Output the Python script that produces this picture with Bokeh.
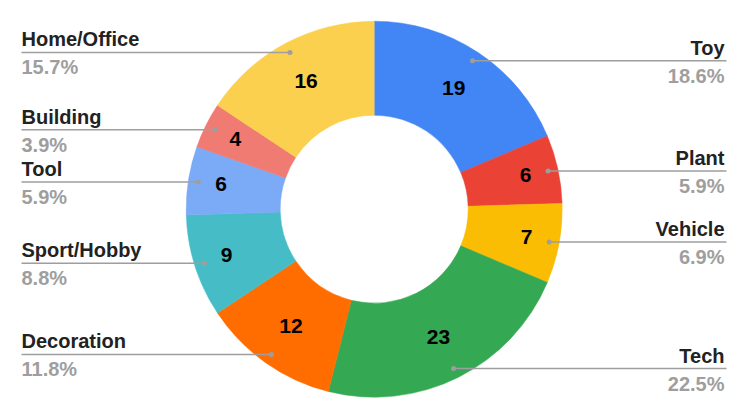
import math
from bokeh.plotting import figure
from bokeh.models import Range1d, ColumnDataSource
from bokeh.core.properties import value
from bokeh.embed import file_html
from bokeh.resources import INLINE

categories = ["Toy", "Plant", "Vehicle", "Tech", "Decoration", "Sport/Hobby", "Tool", "Building", "Home/Office"]
values = [19, 6, 7, 23, 12, 9, 6, 4, 16]
colors = ["#4285F4", "#EA4335", "#FBBC04", "#34A853", "#FF6D01", "#46BDC6", "#7BAAF7", "#F07B72", "#FCD04F"]

W, H = 731, 402
# data coords: x = screen x, y = 418 - screen y
p = figure(width=W, height=H, output_backend="svg", toolbar_location=None,
           x_range=Range1d(0, W), y_range=Range1d(418 - H, 418),
           min_border=0)
p.axis.visible = False
p.grid.visible = False
p.outline_line_color = None
p.background_fill_color = "white"

cx, cy = 373.7, 418 - 208.7
R_out, R_in = 188, 94
R_dot = R_out - 10
LEFT_X, RIGHT_X = 21, 726

total = sum(values)
starts, ends, mids = [], [], []
cum = 0
for v in values:
    a0 = math.pi / 2 - 2 * math.pi * cum / total
    cum += v
    a1 = math.pi / 2 - 2 * math.pi * cum / total
    starts.append(a0)
    ends.append(a1)
    mids.append((a0 + a1) / 2)

src = ColumnDataSource(dict(start=starts, end=ends, color=colors))
p.annular_wedge(x=cx, y=cy, inner_radius=R_in, outer_radius=R_out,
                start_angle="start", end_angle="end", direction="clock",
                fill_color="color", line_color="color", line_width=0.5, source=src)

# value labels: thin slices push their label outward, where the slice is wider
lab_r = [144 if v / total >= 0.1 else 155 for v in values]
vx = [cx + r * math.cos(m) for r, m in zip(lab_r, mids)]
vy = [cy + r * math.sin(m) + 1 for r, m in zip(lab_r, mids)]
p.text(x=vx, y=vy, text=[str(v) for v in values], text_align="center",
       text_baseline="middle", text_font=value("Liberation Sans"),
       text_font_style="bold", text_font_size="21px", text_color="#000000")

# leaders and labels
for cat, v, m in zip(categories, values, mids):
    dx = cx + R_dot * math.cos(m)
    dy = cy + R_dot * math.sin(m)
    right = math.cos(m) >= 0
    ex = RIGHT_X if right else LEFT_X
    p.line([dx, ex], [dy, dy], line_color="#9e9e9e", line_width=1.5)
    p.scatter([dx], [dy], size=5, marker="circle", fill_color="#9e9e9e", line_color=None)
    align = "right" if right else "left"
    tx = ex - 2 if right else ex
    p.text(x=[tx], y=[dy + 13], text=[cat], text_align=align, text_baseline="alphabetic",
           text_font=value("Liberation Sans"), text_font_style="bold",
           text_font_size="20px", text_color="#222222")
    p.text(x=[tx], y=[dy - 15], text=[f"{v / total * 100:.1f}%"], text_align=align,
           text_baseline="alphabetic", text_font=value("Liberation Sans"),
           text_font_style="bold", text_font_size="20px", text_color="#9e9e9e")

open("out.html", "w").write(file_html(p, INLINE))
